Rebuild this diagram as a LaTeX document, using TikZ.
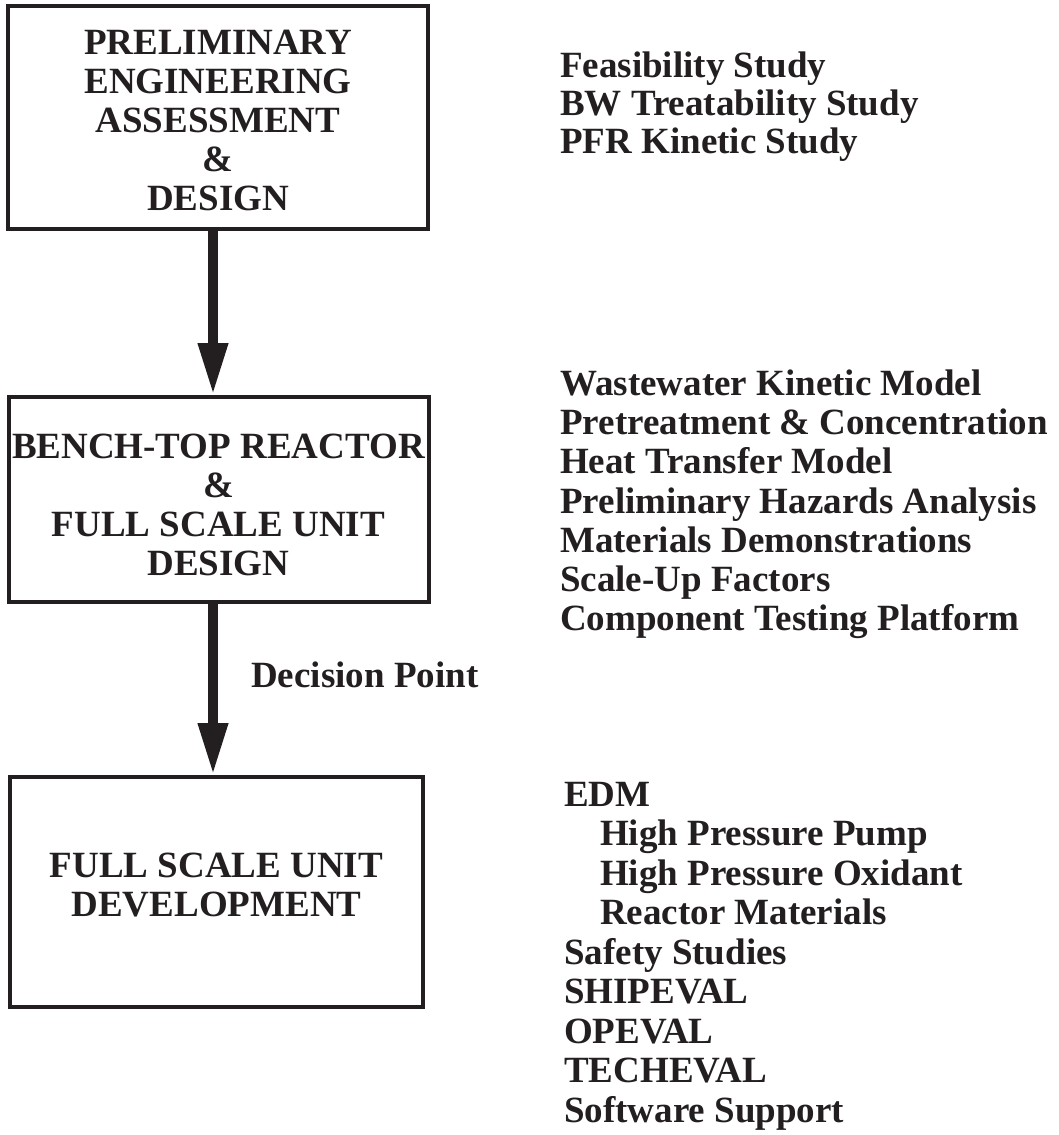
\documentclass[tikz,border=0pt]{standalone}
\usepackage{fontspec}
\setmainfont{Liberation Serif}
\usetikzlibrary{arrows.meta}
\definecolor{ink}{RGB}{35,31,32}
\newcommand\upstrut[1]{\vphantom{\rule{1pt}{#1}}}
\newcommand\downstrut[1]{\vphantom{\rule[-#1]{1pt}{#1}}}
\begin{document}
\begin{tikzpicture}[x=1pt,y=-1pt,
  box/.style={draw=ink, line width=4pt, minimum width=420pt, align=center,
    inner sep=0pt, text=ink, font=\bfseries\fontsize{37}{39}\selectfont},
  flow/.style={draw=ink, line width=10pt,
    -{Triangle[width=28pt,length=52pt,fill=ink]}},
  item/.style={anchor=base west, inner sep=0pt, text=ink,
    font=\bfseries\fontsize{37}{39}\selectfont}
]
\fill[white] (0,0) rectangle (1058,1135);
\useasboundingbox (0,0) rectangle (1058,1135);

% boxes
\node[box, minimum height=223pt] (b1) at (218,117.5)
  {\upstrut{31pt}PRELIMINARY\\ENGINEERING\\ASSESSMENT\\\&\\DESIGN};
\node[box, minimum height=205pt] (b2) at (218.5,499.5)
  {\upstrut{35pt}BENCH-TOP REACTOR\\\&\\FULL SCALE UNIT\\DESIGN};
\node[box, minimum width=413pt, minimum height=230pt] (b3) at (216.5,892)
  {FULL SCALE UNIT\\DEVELOPMENT\downstrut{14pt}};

% connectors
\draw[flow] (b1.south -| 213,0) -- (b2.north -| 213,0);
\draw[flow] (b2.south -| 213,0) -- (b3.north -| 213,0);
\node[item] (dp) at (251,687) {Decision Point};

% group 1
\node[item] (g11) at (560,77) {Feasibility Study};
\node[item] (g12) at (560,115) {BW Treatability Study};
\node[item] (g13) at (560,153) {PFR Kinetic Study};

% group 2
\node[item] (g21) at (560,395) {Wastewater Kinetic Model};
\node[item] (g22) at (560,434) {Pretreatment \& Concentration};
\node[item] (g23) at (560,473) {Heat Transfer Model};
\node[item] (g24) at (560,513) {Preliminary Hazards Analysis};
\node[item] (g25) at (560,552) {Materials Demonstrations};
\node[item] (g26) at (560,591) {Scale-Up Factors};
\node[item] (g27) at (560,630) {Component Testing Platform};

% group 3
\node[item] (g31) at (564,806) {EDM};
\node[item] (g32) at (600,845.5) {High Pressure Pump};
\node[item] (g33) at (600,885) {High Pressure Oxidant};
\node[item] (g34) at (600,924.5) {Reactor Materials};
\node[item] (g35) at (564,964) {Safety Studies};
\node[item] (g36) at (564,1003.5) {SHIPEVAL};
\node[item] (g37) at (564,1043) {OPEVAL};
\node[item] (g38) at (564,1082.5) {TECHEVAL};
\node[item] (g39) at (564,1122) {Software Support};
\end{tikzpicture}
\end{document}
